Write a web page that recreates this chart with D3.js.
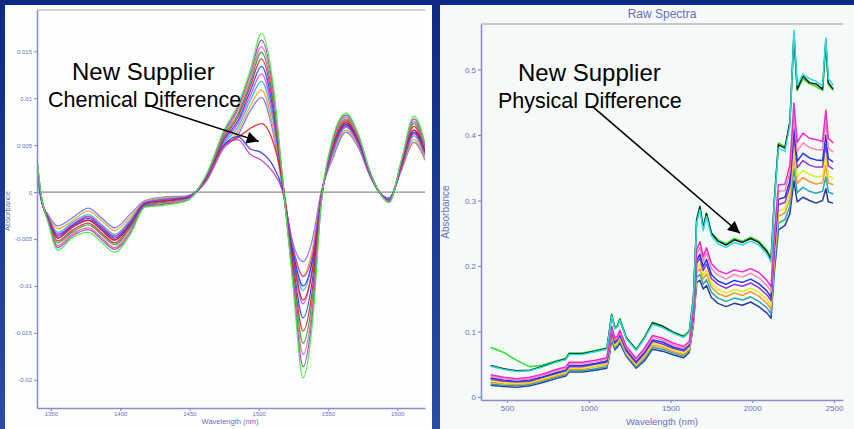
<!DOCTYPE html>
<html>
<head>
<meta charset="utf-8">
<script src="https://cdn.jsdelivr.net/npm/d3@7"></script>
<style>
html, body { margin: 0; padding: 0; background: #1a3a96; }
svg { display: block; }
text { font-family: "Liberation Sans", Arial, sans-serif; }
</style>
</head>
<body>
<svg id="chart" width="854" height="429"></svg>
<script>
// ---- left panel: 2nd derivative spectra (values in units of 1e-3) ----
const leftWl = [1340, 1343, 1348, 1355, 1365, 1377, 1387, 1396, 1407, 1418, 1432, 1448, 1462, 1475, 1485, 1494,
                1502, 1510, 1517, 1525, 1532, 1539, 1545, 1553, 1563, 1572, 1580, 1587, 1594, 1603, 1612, 1620];
const leftTicksX = [1350, 1400, 1450, 1500, 1550, 1600];
const leftTicksY = [-0.02, -0.015, -0.01, -0.005, 0, 0.005, 0.01, 0.015];

const d2_0 = [2.1,-0.9,-2.4,-3.6,-2.8,-1.7,-2.8,-3.8,-2.4,-0.9,-0.5,-0.4,1.1,4.7,6.1,8.7,10.1,6.6,0.7,-5.6,-7.4,-4.9,0.0,3.4,6.4,4.7,1.8,0.0,-0.6,2.3,5.3,3.4];
const d2_1 = [2.3,-0.8,-2.5,-3.9,-3.1,-2.0,-3.1,-4.1,-2.7,-1.0,-0.6,-0.5,1.2,4.9,6.5,9.2,10.9,7.2,0.8,-6.2,-8.9,-5.9,-0.2,3.7,6.6,4.9,1.9,0.0,-0.7,2.4,5.6,3.6];
const d2_2 = [2.5,-0.8,-2.6,-4.3,-3.3,-2.4,-3.5,-4.5,-3.0,-1.1,-0.7,-0.5,1.3,5.2,6.9,9.8,11.8,7.9,1.0,-6.8,-10.5,-7.1,-0.4,3.9,6.9,5.1,1.9,0.0,-0.7,2.6,6.0,3.9];
const d2_3 = [2.6,-0.7,-2.7,-4.5,-3.6,-2.6,-3.7,-4.7,-3.2,-1.2,-0.8,-0.6,1.4,5.4,7.3,10.3,12.6,8.5,1.1,-7.3,-11.9,-8.0,-0.5,4.2,7.1,5.2,2.0,0.0,-0.8,2.7,6.3,4.1];
const d2_4 = [2.8,-0.6,-2.8,-4.9,-3.8,-3.0,-4.1,-5.1,-3.5,-1.2,-0.9,-0.6,1.4,5.6,7.6,10.8,13.4,9.1,1.2,-7.9,-13.4,-9.1,-0.7,4.4,7.4,5.4,2.0,0.0,-0.8,2.8,6.6,4.3];
const d2_5 = [3.0,-0.5,-2.9,-5.2,-4.1,-3.3,-4.4,-5.4,-3.7,-1.3,-1.0,-0.7,1.5,5.8,8.0,11.3,14.2,9.8,1.4,-8.5,-14.8,-10.1,-0.8,4.7,7.6,5.5,2.1,0.0,-0.9,3.0,7.0,4.5];
const d2_6 = [3.2,-0.5,-3.0,-5.4,-4.3,-3.5,-4.6,-5.6,-3.9,-1.4,-1.1,-0.8,1.6,6.0,8.3,11.7,14.9,10.3,1.5,-9.0,-16.1,-11.0,-1.0,4.9,7.8,5.7,2.2,0.0,-1.0,3.1,7.3,4.7];
const d2_7 = [3.3,-0.4,-3.0,-5.7,-4.5,-3.8,-4.9,-5.9,-4.2,-1.5,-1.2,-0.8,1.7,6.2,8.7,12.1,15.5,10.8,1.6,-9.4,-17.3,-11.9,-1.1,5.1,8.0,5.8,2.2,0.0,-1.0,3.2,7.5,4.8];
const d2_8 = [3.5,-0.4,-3.1,-5.9,-4.7,-4.0,-5.1,-6.1,-4.4,-1.5,-1.3,-0.9,1.7,6.4,9.0,12.6,16.2,11.4,1.7,-9.9,-18.6,-12.7,-1.3,5.3,8.2,6.0,2.3,0.0,-1.1,3.3,7.8,5.0];
const d2_9 = [3.6,-0.3,-3.2,-6.2,-4.9,-4.3,-5.4,-6.4,-4.6,-1.6,-1.4,-0.9,1.8,6.6,9.3,13.0,16.9,11.9,1.8,-10.4,-19.8,-13.6,-1.4,5.5,8.4,6.1,2.3,0.0,-1.1,3.4,8.1,5.2];
// new supplier lots
const d2_s1 = [2.8,-0.6,-2.8,-4.9,-3.8,-3.0,-4.1,-5.1,-3.5,-1.2,-0.9,-0.6,1.4,5.0,5.8,6.8,7.3,5.5,1.3,-7.0,-11.5,-8.0,-0.6,4.4,7.4,5.4,2.0,0.0,-0.8,2.8,6.6,4.3];
const d2_s2 = [2.7,-0.6,-2.7,-4.7,-3.6,-2.8,-3.9,-4.9,-3.4,-1.2,-0.8,-0.6,1.3,5.0,5.9,4.6,4.2,2.9,0.4,-6.5,-10.0,-7.0,-0.5,4.3,7.2,5.3,2.0,0.0,-0.8,2.7,6.4,4.2];
const d2_s3 = [2.6,-0.6,-2.6,-4.5,-3.5,-2.6,-3.7,-4.7,-3.2,-1.1,-0.8,-0.5,1.3,4.9,5.6,4.0,3.4,2.2,0.2,-6.0,-9.0,-6.5,-0.4,4.2,7.0,5.1,1.9,0.0,-0.8,2.6,6.2,4.0];

const leftSeries = [d2_0, d2_1, d2_2, d2_3, d2_4, d2_5, d2_6, d2_7, d2_8, d2_s1, d2_s2, d2_s3, d2_9];
const leftColors = ["#7a6cff", "#f0a020", "#20b8e0", "#e040e0", "#2040ff", "#e02020", "#20a040", "#ff60a0", "#a040c0", "#e81818", "#3030e8", "#c040c0", "#40f040"];

// ---- right panel: raw spectra ----
const rightWl = [400,480,560,640,720,800,860,880,960,1040,1110,1125,1140,1160,1175,1190,1230,1290,1340,1390,1450,1520,1580,1615,1640,1660,1680,
                 1700,1720,1750,1790,1840,1890,1940,1990,2040,2090,2115,2135,2160,2200,2230,2255,2275,2310,2350,2390,2430,2450,2465,2495];
const rightTicksX = [500, 1000, 1500, 2000, 2500];
const rightTicksY = [0, 0.1, 0.2, 0.3, 0.4, 0.5];

const rawNavy    = [.018,.016,.015,.017,.022,.028,.032,.038,.038,.041,.044,.060,.088,.072,.076,.083,.062,.044,.055,.073,.070,.064,.060,.068,.110,.175,.178,.165,.170,.152,.143,.138,.143,.140,.145,.138,.128,.120,.190,.255,.262,.280,.330,.298,.305,.300,.296,.300,.318,.298,.296];
const rawTeal    = [.020,.018,.017,.019,.024,.030,.034,.040,.040,.043,.046,.063,.091,.075,.079,.086,.064,.046,.058,.076,.073,.067,.063,.071,.113,.183,.187,.172,.179,.160,.151,.146,.151,.148,.153,.146,.136,.127,.199,.265,.271,.291,.348,.312,.320,.314,.311,.314,.336,.313,.310];
const rawOrange  = [.023,.020,.019,.021,.026,.032,.036,.042,.042,.046,.049,.066,.094,.077,.081,.089,.066,.048,.061,.079,.076,.069,.065,.073,.116,.190,.196,.180,.188,.168,.158,.153,.159,.155,.161,.154,.143,.134,.208,.276,.281,.302,.366,.326,.335,.329,.325,.327,.354,.327,.324];
const rawYellow  = [.025,.022,.021,.022,.028,.034,.038,.044,.044,.047,.051,.068,.096,.079,.083,.091,.068,.050,.063,.082,.078,.072,.067,.075,.119,.196,.203,.186,.194,.174,.164,.159,.164,.161,.166,.160,.149,.140,.214,.284,.288,.311,.380,.336,.346,.340,.336,.337,.368,.338,.334];
const rawPurple  = [.027,.024,.023,.024,.030,.036,.040,.046,.046,.050,.053,.071,.099,.082,.086,.094,.070,.052,.066,.085,.081,.074,.070,.078,.122,.204,.212,.193,.203,.181,.172,.166,.172,.169,.174,.167,.156,.147,.223,.294,.297,.322,.398,.350,.361,.354,.351,.351,.386,.353,.348];
const rawBlue    = [.029,.026,.024,.026,.031,.037,.041,.048,.048,.051,.055,.074,.101,.084,.088,.096,.072,.054,.068,.087,.084,.076,.072,.080,.124,.209,.218,.199,.210,.187,.177,.172,.178,.175,.180,.173,.162,.152,.230,.302,.305,.330,.411,.360,.372,.365,.362,.361,.400,.364,.359];
const rawPink    = [.032,.028,.026,.028,.033,.040,.044,.051,.051,.054,.058,.077,.105,.087,.090,.099,.075,.057,.071,.091,.087,.079,.074,.082,.128,.218,.228,.207,.220,.196,.186,.180,.187,.183,.189,.182,.170,.161,.240,.314,.315,.343,.431,.375,.388,.381,.378,.377,.420,.380,.374];
const rawMagenta = [.034,.030,.028,.030,.035,.042,.046,.053,.053,.056,.060,.080,.108,.090,.093,.102,.077,.059,.074,.094,.090,.082,.077,.085,.131,.225,.237,.214,.228,.204,.193,.188,.194,.191,.196,.190,.178,.168,.248,.324,.325,.354,.449,.389,.403,.395,.393,.390,.438,.395,.388];
const rawCyan    = [.047,.042,.039,.040,.046,.053,.057,.065,.065,.069,.073,.096,.124,.104,.107,.117,.089,.071,.089,.111,.106,.097,.091,.099,.148,.266,.286,.254,.276,.246,.234,.228,.236,.232,.238,.232,.218,.206,.296,.380,.375,.414,.560,.476,.493,.486,.482,.475,.548,.486,.476];
const rawBlack   = [.048,.043,.040,.041,.047,.054,.058,.066,.066,.070,.074,.098,.125,.105,.108,.118,.090,.072,.090,.113,.108,.098,.092,.100,.150,.270,.290,.258,.280,.250,.238,.232,.240,.236,.242,.236,.222,.210,.300,.385,.380,.420,.555,.470,.490,.480,.478,.470,.545,.480,.470];
const rawGreen   = [.076,.068,.056,.046,.049,.055,.059,.067,.067,.071,.075,.099,.127,.106,.109,.120,.091,.073,.091,.114,.109,.099,.093,.101,.152,.272,.292,.260,.281,.251,.240,.234,.242,.238,.244,.238,.224,.212,.302,.388,.382,.418,.548,.468,.486,.478,.474,.468,.535,.477,.468];

const rightSeries = [rawNavy, rawTeal, rawOrange, rawYellow, rawPurple, rawBlue, rawPink, rawMagenta, rawGreen, rawBlack, rawCyan];
const rightColors = ["#2a3c9a", "#2aa6b0", "#f09a2a", "#e8e820", "#8a3ad0", "#2236f0", "#ff88b0", "#f02ad0", "#2ee02e", "#1a1a1a", "#26e0e0"];

// ---- layout ----
const svg = d3.select("#chart");
const defs = svg.append("defs");

const bg = defs.append("linearGradient").attr("id", "bg")
    .attr("x1", 0).attr("y1", 0).attr("x2", 0).attr("y2", 1);
bg.append("stop").attr("offset", "0%").attr("stop-color", "#0c2a84");
bg.append("stop").attr("offset", "100%").attr("stop-color", "#2c4ba8");
svg.append("rect").attr("width", 854).attr("height", 429).attr("fill", "url(#bg)");

svg.append("rect").attr("x", 5).attr("y", 5).attr("width", 427).attr("height", 424).attr("fill", "#fdfefe");
svg.append("rect").attr("x", 440).attr("y", 5).attr("width", 414).attr("height", 424).attr("fill", "#f5f9f7");

defs.append("marker")
    .attr("id", "arrowhead")
    .attr("viewBox", "0 -5 10 10")
    .attr("refX", 10)
    .attr("refY", 0)
    .attr("markerUnits", "userSpaceOnUse")
    .attr("markerWidth", 15)
    .attr("markerHeight", 12)
    .attr("orient", "auto")
    .append("path")
    .attr("d", "M0,-5L10,0L0,5Z")
    .attr("fill", "#000");

const axisColor = "#8a8fcc";
const labelColor = "#6670bb";

function styleAxis(g, fontSize) {
    g.select(".domain").attr("stroke", axisColor).attr("stroke-width", 1.6);
    g.selectAll(".tick line").attr("stroke", axisColor).attr("stroke-width", 1.2);
    g.selectAll(".tick text").attr("fill", labelColor).attr("font-size", fontSize);
}

const fmt = d => String(+d.toFixed(3));
const fmtInt = d3.format("d");

// ---- left chart ----
const xL = d3.scaleLinear().domain([1340, 1620]).range([37, 425]);
const yL = d3.scaleLinear().domain([-0.023, 0.0194]).range([408, 10]);

defs.append("clipPath").attr("id", "clipL").append("rect")
    .attr("x", 37).attr("y", 10).attr("width", 388).attr("height", 398);

const gL = svg.append("g");
gL.append("line").attr("x1", xL.range()[0]).attr("x2", xL.range()[1])
    .attr("y1", yL.range()[1]).attr("y2", yL.range()[1])
    .attr("stroke", "#c4c4c4").attr("stroke-width", 1.6);
gL.append("line").attr("x1", xL.range()[0]).attr("x2", xL.range()[1])
    .attr("y1", yL(0)).attr("y2", yL(0))
    .attr("stroke", "#8c8c8c").attr("stroke-width", 1.2);

const lineL = d3.line()
    .x((d, i) => xL(leftWl[i]))
    .y(d => yL(d / 1000))
    .curve(d3.curveMonotoneX);

gL.append("g").attr("clip-path", "url(#clipL)")
    .selectAll("path").data(leftSeries).join("path")
    .attr("d", lineL)
    .attr("fill", "none")
    .attr("stroke", (d, i) => leftColors[i])
    .attr("stroke-width", 1.3)
    .attr("stroke-opacity", 0.9);

gL.append("g").attr("transform", `translate(0,${yL.range()[0]})`)
    .call(d3.axisBottom(xL).tickValues(leftTicksX).tickFormat(fmtInt).tickSize(3).tickSizeOuter(0).tickPadding(1))
    .call(g => styleAxis(g, 6));
gL.append("g").attr("transform", `translate(${xL.range()[0]},0)`)
    .call(d3.axisLeft(yL).tickValues(leftTicksY).tickFormat(fmt).tickSize(3).tickSizeOuter(0).tickPadding(2))
    .call(g => styleAxis(g, 6));

gL.append("text").attr("x", 230).attr("y", 424).attr("text-anchor", "middle")
    .attr("font-size", 7.5).attr("fill", labelColor).text("Wavelength (nm)");
gL.append("text").attr("transform", "translate(10,211) rotate(-90)").attr("text-anchor", "middle")
    .attr("font-size", 7.5).attr("fill", labelColor).text("Absorbance");

gL.append("text").attr("x", 72).attr("y", 80).attr("font-size", 24).attr("fill", "#000").text("New Supplier");
gL.append("text").attr("x", 48).attr("y", 107).attr("font-size", 21.5).attr("fill", "#000").text("Chemical Difference");
gL.append("line")
    .attr("x1", xL(1419)).attr("y1", yL(0.0093))
    .attr("x2", xL(1500)).attr("y2", yL(0.0054))
    .attr("stroke", "#000").attr("stroke-width", 1.6)
    .attr("marker-end", "url(#arrowhead)");

// ---- right chart ----
const xR = d3.scaleLinear().domain([341, 2555]).range([481, 843]);
const yR = d3.scaleLinear().domain([-0.0046, 0.5695]).range([400, 24]);

defs.append("clipPath").attr("id", "clipR").append("rect")
    .attr("x", 481).attr("y", 24).attr("width", 362).attr("height", 376);

const gR = svg.append("g");
gR.append("line").attr("x1", xR.range()[0]).attr("x2", xR.range()[1])
    .attr("y1", yR.range()[1]).attr("y2", yR.range()[1])
    .attr("stroke", "#c8c8c8").attr("stroke-width", 2);

const lineR = d3.line()
    .x((d, i) => xR(rightWl[i]))
    .y(d => yR(d));

gR.append("g").attr("clip-path", "url(#clipR)")
    .selectAll("path").data(rightSeries).join("path")
    .attr("d", lineR)
    .attr("fill", "none")
    .attr("stroke", (d, i) => rightColors[i])
    .attr("stroke-width", 1.5)
    .attr("stroke-linejoin", "round");

gR.append("g").attr("transform", `translate(0,${yR.range()[0]})`)
    .call(d3.axisBottom(xR).tickValues(rightTicksX).tickFormat(fmtInt).tickSize(3).tickSizeOuter(0).tickPadding(2))
    .call(g => styleAxis(g, 8));
gR.append("g").attr("transform", `translate(${xR.range()[0]},0)`)
    .call(d3.axisLeft(yR).tickValues(rightTicksY).tickFormat(fmt).tickSize(3).tickSizeOuter(0).tickPadding(2))
    .call(g => styleAxis(g, 8));

gR.append("text").attr("x", 662).attr("y", 18).attr("text-anchor", "middle")
    .attr("font-size", 12).attr("fill", labelColor).text("Raw Spectra");
gR.append("text").attr("x", 662).attr("y", 425).attr("text-anchor", "middle")
    .attr("font-size", 9.5).attr("fill", labelColor).text("Wavelength (nm)");
gR.append("text").attr("transform", "translate(449,212) rotate(-90)").attr("text-anchor", "middle")
    .attr("font-size", 10).attr("fill", labelColor).text("Absorbance");

gR.append("text").attr("x", 518).attr("y", 81).attr("font-size", 24).attr("fill", "#000").text("New Supplier");
gR.append("text").attr("x", 498).attr("y", 108).attr("font-size", 21.5).attr("fill", "#000").text("Physical Difference");
gR.append("line")
    .attr("x1", xR(1020)).attr("y1", yR(0.444))
    .attr("x2", xR(1925)).attr("y2", yR(0.25))
    .attr("stroke", "#000").attr("stroke-width", 1.6)
    .attr("marker-end", "url(#arrowhead)");
</script>
</body>
</html>
